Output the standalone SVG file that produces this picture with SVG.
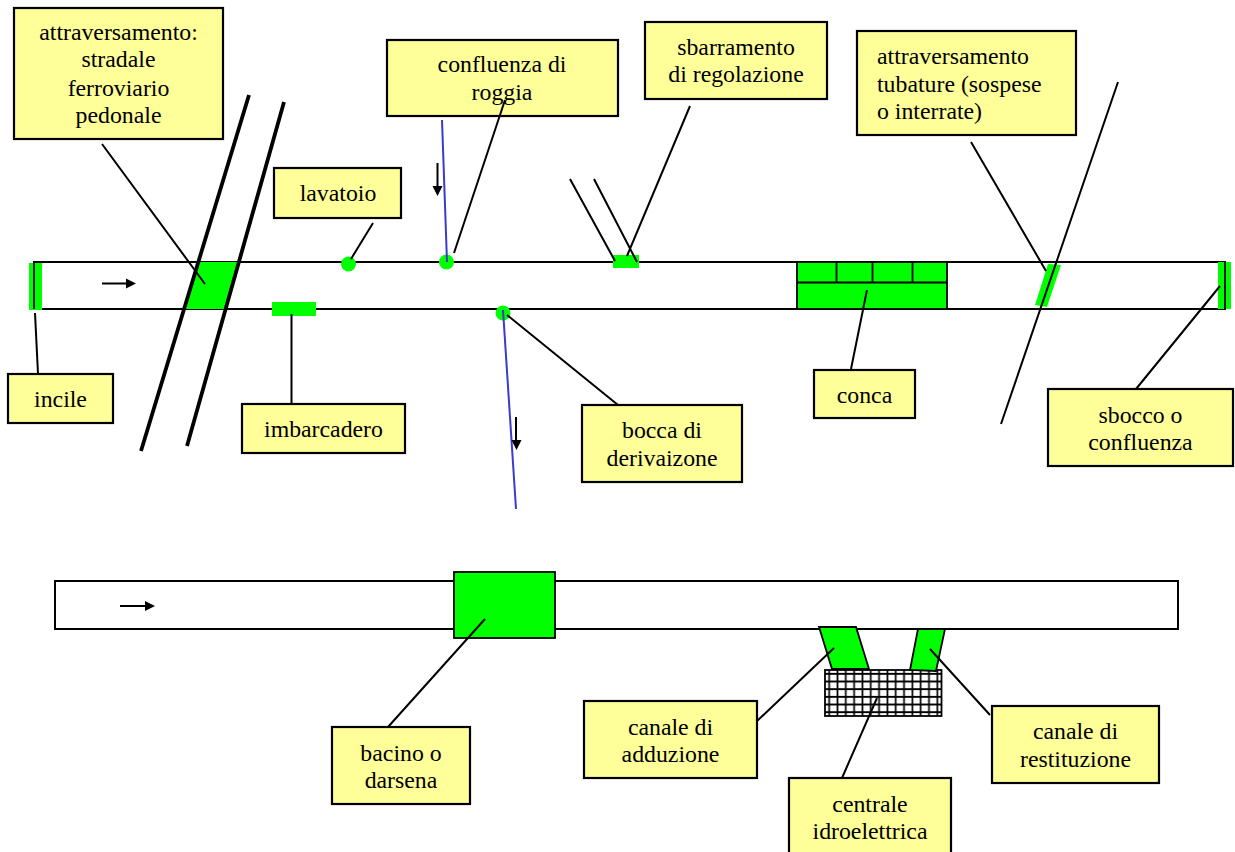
<svg xmlns="http://www.w3.org/2000/svg" width="1235" height="852" viewBox="0 0 1235 852">
<style>
text{font-family:"Liberation Serif","Times New Roman",serif;font-size:23.8px;fill:#000;text-anchor:middle}
.box{fill:#ffff99;stroke:#000;stroke-width:2.2}
.ch{fill:#fff;stroke:#000;stroke-width:2}
.g{fill:#00ff00;stroke:none}
.gs{fill:#00ff00;stroke:#000;stroke-width:1.8}
.l{fill:none;stroke:#000;stroke-width:2}
.t{fill:none;stroke:#000;stroke-width:3.8}
.b{fill:none;stroke:#3a3acc;stroke-width:2}
.f{fill:none;stroke:#000;stroke-width:1.8}
.hd{fill:#000;stroke:none}
</style>
<defs>
<pattern id="grid" x="825" y="670" width="8.32" height="7.67" patternUnits="userSpaceOnUse">
<rect width="8.32" height="7.67" fill="#fff"/>
<path d="M4.16 0V7.67M0 3.83H8.32" stroke="#000" stroke-width="1.700" fill="none"/>
</pattern>
</defs>
<g id="canale-superiore"><rect class="ch" x="34" y="262" width="1191" height="47"/></g>
<g id="canale-inferiore"><rect class="ch" x="55" y="581" width="1123" height="48"/></g>
<g id="incile"><rect class="g" x="29" y="263" width="13" height="47"/><path class="f" d="M34 262V309"/></g>
<g id="attraversamento-stradale"><polygon class="g" points="198,262 238,262 226,309 186,309"/></g>
<g id="imbarcadero"><rect class="g" x="272" y="302" width="44" height="14"/></g>
<g id="lavatoio"><circle class="g" cx="348.500" cy="264" r="7.500"/></g>
<g id="confluenza"><circle class="g" cx="446.500" cy="262" r="7.500"/></g>
<g id="bocca"><circle class="g" cx="503" cy="313" r="7.500"/></g>
<g id="sbarramento"><rect class="g" x="613" y="255" width="26" height="13"/></g>
<g id="conca"><rect class="gs" x="797" y="262" width="150" height="47"/><path class="f" d="M797 282.500H947M836.500 262V282.500M872.500 262V282.500M912.500 262V282.500"/></g>
<g id="tubature"><polygon class="g" points="1048,264 1061,265 1047,307 1035,305"/></g>
<g id="sbocco"><rect class="g" x="1218" y="262" width="13" height="47"/><path class="f" d="M1225 262V309"/></g>
<g id="bacino"><rect class="gs" x="454" y="572" width="101" height="66"/></g>
<g id="centrale"><rect x="825" y="670" width="116.500" height="46" fill="url(#grid)" stroke="#000" stroke-width="1.800"/></g>
<g id="adduzione"><polygon class="gs" points="819,627 856,627 869,669 832,669"/></g>
<g id="restituzione"><polygon class="gs" points="918,629 945,629 936,671 910,670"/></g>
<g id="n-attraversamento"><rect class="box" x="14" y="8" width="209" height="131"/><text x="118.500" y="40">attraversamento:</text><text x="118.500" y="67">stradale</text><text x="118.500" y="96">ferroviario</text><text x="118.500" y="123">pedonale</text></g>
<g id="n-confluenza"><rect class="box" x="387" y="40" width="231" height="76"/><text x="502" y="72">confluenza di</text><text x="502" y="100">roggia</text></g>
<g id="n-sbarramento"><rect class="box" x="645" y="22" width="182" height="77"/><text x="736" y="55">sbarramento</text><text x="736" y="82">di regolazione</text></g>
<g id="n-tubature"><rect class="box" x="857" y="31" width="219" height="104"/><text x="877" y="64" style="text-anchor:start">attraversamento</text><text x="877" y="92" style="text-anchor:start">tubature (sospese</text><text x="877" y="119" style="text-anchor:start">o interrate)</text></g>
<g id="n-lavatoio"><rect class="box" x="274" y="168" width="127" height="50"/><text x="338" y="201">lavatoio</text></g>
<g id="n-incile"><rect class="box" x="8" y="374" width="105" height="49"/><text x="60.500" y="407">incile</text></g>
<g id="n-imbarcadero"><rect class="box" x="242" y="404" width="163" height="49"/><text x="323.500" y="437">imbarcadero</text></g>
<g id="n-bocca"><rect class="box" x="582" y="405" width="160" height="77"/><text x="662" y="438">bocca di</text><text x="662" y="466">derivaizone</text></g>
<g id="n-conca"><rect class="box" x="814" y="370" width="101" height="48"/><text x="864.500" y="403">conca</text></g>
<g id="n-sbocco"><rect class="box" x="1048" y="389" width="185" height="77"/><text x="1140.500" y="423">sbocco o</text><text x="1140.500" y="450">confluenza</text></g>
<g id="n-bacino"><rect class="box" x="332" y="727" width="138" height="77"/><text x="401" y="761">bacino o</text><text x="401" y="788">darsena</text></g>
<g id="n-adduzione"><rect class="box" x="584" y="701" width="173" height="77"/><text x="670.500" y="735">canale di</text><text x="670.500" y="762">adduzione</text></g>
<g id="n-restituzione"><rect class="box" x="992" y="706" width="167" height="77"/><text x="1075.500" y="739">canale di</text><text x="1075.500" y="767">restituzione</text></g>
<g id="n-centrale"><rect class="box" x="789" y="778" width="162" height="76"/><text x="870" y="812">centrale</text><text x="870" y="839">idroelettrica</text></g>
<g id="connectors">
<path class="t" d="M249 95L141 451M284 102L187 446"/>
<path class="l" d="M1118 82L1001 424M570 179L615 261M594 179L637 262"/>
<path class="b" d="M442 120L447 262M503 310L516 509"/>
<path class="l" d="M102 144L205 284M35 313L38 374M291.500 314V404M373 223L351 259M505 100L454 253M690 106L627 256M971 142L1046 271M851 369L867 290M1136 389L1220 286M618 405L507 315M388 727L485 619M757 721L834 648M842 778L877 698M990 715L930 649"/>
<path class="l" d="M102 283.500H128M120 606H146M437.500 163V188M516 417V442"/>
<path class="hd" d="M136 283.500L126 278.500V288.500ZM155 606L145 601V611ZM437.500 196L432.500 186H442.500ZM516.500 450L511.500 440H521.500Z"/>
</g>
</svg>
